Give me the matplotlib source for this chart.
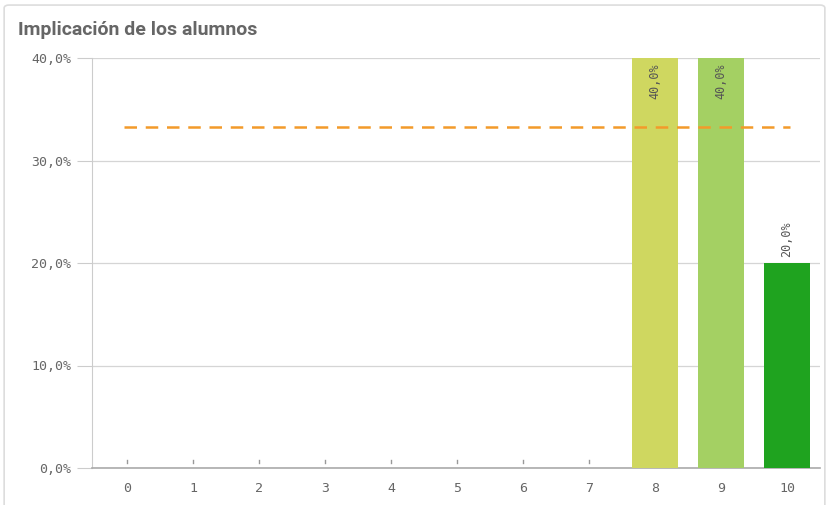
import numpy as np
import matplotlib.pyplot as plt
from matplotlib.patches import FancyBboxPatch

# Data
scores = [0, 1, 2, 3, 4, 5, 6, 7, 8, 9, 10]
pct = [0, 0, 0, 0, 0, 0, 0, 0, 40.0, 40.0, 20.0]
bar_colors = ['#CFD760'] * 8 + ['#CFD760', '#A4D063', '#1FA31F']
ref_value = 33.3
title = "Implicación de los alumnos"

fig = plt.figure(figsize=(8.29, 5.05), dpi=100)

# card border
border = FancyBboxPatch((0.005, -0.02), 0.99, 1.01, boxstyle="round,pad=0,rounding_size=0.006",
                        transform=fig.transFigure, fc='white', ec='#DDDDDD', lw=1.2, zorder=-10)
fig.patches.append(border)

fig.text(0.022, 0.94, title, fontsize=14, fontweight='bold', color='#666666',
         ha='left', va='center', family='Roboto')

ax = fig.add_axes([92 / 829, 1 - 468 / 505, (820 - 92) / 829, (468 - 58) / 505], zorder=5)
ax.patch.set_alpha(0)

ax.bar(scores, pct, width=0.7, color=bar_colors, zorder=3)

# small markers for zero-value bars
for x, v in zip(scores, pct):
    if v == 0:
        ax.plot([x, x], [0.45, 0.75], color='#999999', lw=1, zorder=3)

# value labels
for x, v in zip(scores, pct):
    if v <= 0:
        continue
    label = f"{v:.1f}%".replace('.', ',')
    if v >= 35:
        ax.text(x, v - 0.5, label, rotation=90, ha='center', va='top',
                fontsize=8.5, color='#555555', family='DejaVu Sans Mono', zorder=4)
    else:
        ax.text(x, v + 0.6, label, rotation=90, ha='center', va='bottom',
                fontsize=8.5, color='#555555', family='DejaVu Sans Mono', zorder=4)

# reference line
ax.plot([-0.05, 10.05], [ref_value, ref_value], color='#F39A2A', lw=1.8,
        linestyle=(0, (5, 3.5)), zorder=5)

ax.set_xlim(-0.53, 10.5)
ax.set_ylim(0, 40)
ax.set_yticks([0, 10, 20, 30, 40])
ax.set_yticklabels([f"{t:.1f}%".replace('.', ',') for t in [0, 10, 20, 30, 40]],
                   family='DejaVu Sans Mono', fontsize=9.5, color='#666666')
ax.set_xticks(scores)
ax.set_xticklabels([str(s) for s in scores], family='DejaVu Sans Mono',
                   fontsize=9.5, color='#666666')
ax.tick_params(axis='x', length=0, pad=10)
ax.tick_params(axis='y', length=11, color='#CCCCCC', pad=4)
ax.grid(axis='y', color='#D5D5D5', lw=0.9, zorder=0)
for s in ['top', 'right']:
    ax.spines[s].set_visible(False)
ax.spines['left'].set_color('#CCCCCC')
ax.spines['bottom'].set_color('#AAAAAA')
ax.spines['bottom'].set_linewidth(1.2)

fig.savefig("out.png", dpi=100)
